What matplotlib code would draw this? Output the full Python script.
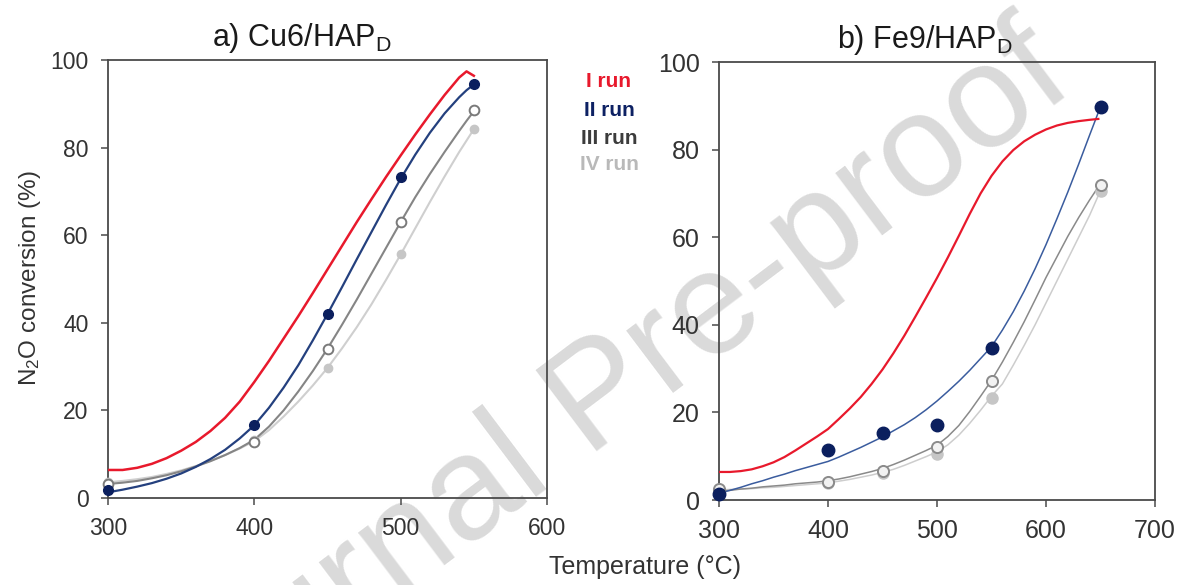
import matplotlib
matplotlib.use("Agg")
import matplotlib.pyplot as plt

plt.rcParams['font.family'] = ['Liberation Sans', 'DejaVu Sans']
plt.rcParams['mathtext.fontset'] = 'custom'
plt.rcParams['mathtext.rm'] = 'Liberation Sans'
plt.rcParams['mathtext.it'] = 'Liberation Sans'

# ---------------- data: panel a) Cu6/HAP_D ----------------
a_T_pts = [300, 400, 450, 500, 550]
a_II_pts = [1.8, 16.7, 42.1, 73.2, 94.5]
a_III_pts = [3.2, 12.8, 34.1, 63.0, 88.5]
a_IV_pts = [3.6, 13.3, 29.6, 55.6, 84.2]

a_T_curve = [300, 310, 320, 330, 340, 350, 360, 370, 380, 390, 400, 410, 420, 430,
             440, 450, 460, 470, 480, 490, 500, 510, 520, 530, 540, 545, 550]
a_I_curve = [6.4, 6.4, 6.9, 7.8, 9.1, 10.8, 12.8, 15.3, 18.3, 22.0, 26.5, 31.3, 36.4, 41.5,
             46.8, 52.2, 57.6, 63.0, 68.2, 73.3, 78.2, 83.0, 87.6, 92.0, 96.0, 97.4, 96.4]
a_II_curve = [1.3, 1.9, 2.6, 3.4, 4.4, 5.6, 7.1, 8.9, 11.0, 13.6, 16.6, 20.6, 25.2, 30.3,
              36.0, 42.0, 48.2, 54.5, 60.7, 66.9, 72.9, 78.4, 83.4, 87.8, 91.5, 93.1, 94.4]
a_III_curve = [3.2, 3.5, 3.9, 4.5, 5.2, 6.1, 7.2, 8.4, 9.8, 11.4, 13.3, 16.3, 20.0, 24.3,
               29.0, 34.1, 39.6, 45.3, 51.2, 57.1, 63.0, 68.7, 74.0, 79.0, 83.8, 86.1, 88.3]
a_IV_curve = [3.6, 3.9, 4.3, 4.8, 5.5, 6.3, 7.3, 8.5, 9.8, 11.3, 13.0, 15.5, 18.6, 22.0,
              25.7, 29.7, 34.2, 39.0, 44.2, 49.8, 55.6, 61.6, 67.6, 73.4, 79.0, 81.6, 84.2]

# ---------------- data: panel b) Fe9/HAP_D ----------------
b_T_pts = [300, 400, 450, 500, 550, 650]
b_II_pts = [1.3, 11.5, 15.2, 17.2, 34.8, 89.8]
b_III_pts = [2.5, 4.0, 6.6, 12.1, 27.2, 72.0]
b_IV_pts = [2.3, 3.8, 6.2, 10.6, 23.4, 70.6]

b_T_curve = [300, 310, 320, 330, 340, 350, 360, 370, 380, 390, 400, 410, 420, 430, 440,
             450, 460, 470, 480, 490, 500, 510, 520, 530, 540, 550, 560, 570, 580, 590,
             600, 610, 620, 630, 640, 648]
b_I_curve = [6.4, 6.4, 6.6, 7.0, 7.7, 8.6, 9.8, 11.3, 12.9, 14.5, 16.2, 18.5, 20.9, 23.5, 26.5,
             29.8, 33.5, 37.5, 41.8, 46.2, 50.7, 55.4, 60.3, 65.3, 70.0, 74.0, 77.3, 79.9, 81.9, 83.4,
             84.6, 85.5, 86.1, 86.5, 86.8, 87.0]
b_II_curve = [1.5, 2.2, 2.9, 3.7, 4.4, 5.2, 5.9, 6.7, 7.4, 8.1, 8.8, 9.8, 10.9, 12.0, 13.2,
              14.4, 15.8, 17.2, 18.8, 20.6, 22.6, 24.8, 27.1, 29.6, 32.3, 35.0, 38.8, 43.0, 47.7, 52.8,
              58.3, 64.2, 70.3, 76.7, 83.3, 88.5]
b_III_curve = [2.0, 2.2, 2.5, 2.7, 3.0, 3.2, 3.4, 3.7, 3.9, 4.1, 4.4, 4.8, 5.3, 5.9, 6.5,
               7.2, 8.1, 9.1, 10.2, 11.3, 12.5, 14.5, 17.0, 20.2, 23.7, 27.3, 31.5, 36.0, 40.7, 45.7,
               50.8, 55.5, 60.2, 64.5, 68.5, 71.5]
b_IV_curve = [2.3, 2.4, 2.5, 2.6, 2.8, 2.9, 3.1, 3.3, 3.5, 3.7, 3.9, 4.3, 4.7, 5.2, 5.7,
              6.3, 7.0, 7.9, 8.9, 9.9, 11.0, 12.6, 14.8, 17.5, 20.5, 23.7, 26.5, 30.8, 35.3, 40.0,
              45.0, 50.0, 55.0, 60.0, 65.0, 69.5]

run_labels = ["I run", "II run", "III run", "IV run"]
run_colors = ["#e8192c", "#0d2163", "#3c3c3c", "#b9b9b9"]

# ---------------- figure ----------------
W, H = 1181, 585
fig = plt.figure(figsize=(W / 100, H / 100), dpi=100)

def px_axes(x0, y0, x1, y1):
    return fig.add_axes([x0 / W, 1 - y1 / H, (x1 - x0) / W, (y1 - y0) / H])

axA = px_axes(108, 60, 547, 498)
axB = px_axes(719, 62, 1155, 500)

spine_col = "#4a4a4a"
for ax in (axA, axB):
    ax.set_facecolor("none")
    for s in ax.spines.values():
        s.set_color(spine_col)
        s.set_linewidth(1.3)
    ax.tick_params(direction="out", length=5, width=1.1, color=spine_col)
    ax.set_ylim(0, 100)
    ax.set_yticks([0, 20, 40, 60, 80, 100])

# panel a
axA.set_xlim(300, 600)
axA.set_xticks([300, 400, 500, 600])
axA.tick_params(labelsize=16.5, labelcolor="#333333", pad=9)
axA.plot(a_T_curve, a_I_curve, color="#e8192c", lw=1.8, zorder=5)
axA.plot(a_T_curve, a_II_curve, color="#24407e", lw=1.6, zorder=4)
axA.plot(a_T_curve, a_III_curve, color="#858585", lw=1.5, zorder=3)
axA.plot(a_T_curve, a_IV_curve, color="#cfcfcf", lw=1.5, zorder=2)
axA.plot(a_T_pts, a_IV_pts, "o", ms=6, color="#c6c6c6", mec="#c6c6c6", zorder=6, clip_on=False)
axA.plot(a_T_pts, a_III_pts, "o", ms=7, mfc="white", mec="#7a7a7a", mew=1.4, zorder=7, clip_on=False)
axA.plot(a_T_pts, a_II_pts, "o", ms=7, color="#0b1f5e", zorder=8, clip_on=False)
axA.set_title("a) Cu6/HAP$_\\mathrm{D}$", fontsize=22, pad=10, color="#1a1a1a", x=0.442)

# panel b
axB.set_xlim(300, 700)
axB.set_xticks([300, 400, 500, 600, 700])
axB.tick_params(labelsize=18, labelcolor="#333333", pad=9)
axB.plot(b_T_curve, b_I_curve, color="#e8192c", lw=1.6, zorder=5)
axB.plot(b_T_curve, b_II_curve, color="#3a5c9e", lw=1.1, zorder=4)
axB.plot(b_T_curve, b_III_curve, color="#8a8a8a", lw=1.1, zorder=3)
axB.plot(b_T_curve, b_IV_curve, color="#cdcdcd", lw=1.1, zorder=2)
axB.plot(b_T_pts, b_IV_pts, "o", ms=8, color="#c6c6c6", zorder=6, clip_on=False)
axB.plot(b_T_pts, b_III_pts, "o", ms=8, mfc="#f2f2f2", mec="#8a8a8a", mew=1.4, zorder=7, clip_on=False)
axB.plot(b_T_pts, b_II_pts, "o", ms=9, color="#0b1f5e", zorder=8, clip_on=False)
axB.set_title("b) Fe9/HAP$_\\mathrm{D}$", fontsize=22, pad=10, color="#1a1a1a", x=0.472)

# axis labels
fig.text(30 / W, 1 - 278 / H, "N$_2$O conversion (%)", rotation=90, ha="center", va="center",
         fontsize=17.5, color="#333333")
fig.text(645 / W, 1 - 567 / H, "Temperature (°C)", ha="center", va="center",
         fontsize=18, color="#333333")

# run labels (legend)
for lab, col, yp in zip(run_labels, run_colors, [82, 110, 138, 165]):
    fig.text(609 / W, 1 - yp / H, lab, ha="center", va="center", fontsize=15,
             fontweight="bold", color=col)

# watermark
fig.text(600 / W, 1 - 400 / H, "Journal Pre-proof", rotation=37, rotation_mode="anchor",
         ha="center", va="center", fontsize=106, color="#dadada", zorder=-1)

fig.savefig("out.png", dpi=100)
